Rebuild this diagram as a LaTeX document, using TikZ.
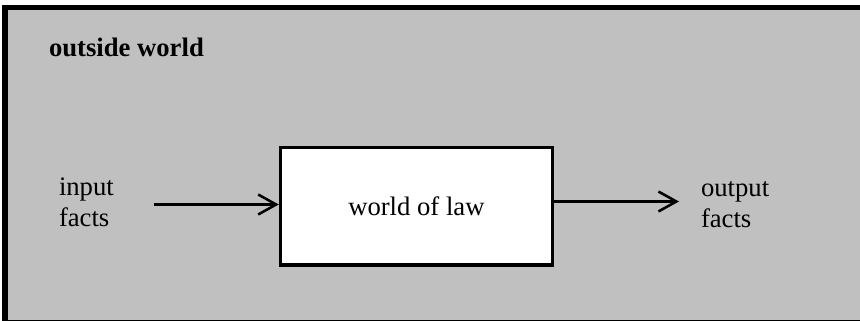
\documentclass[tikz,border=0pt]{standalone}
\usepackage{fontspec}
\setmainfont{Liberation Serif}
\usetikzlibrary{arrows.meta}
\definecolor{worldgray}{HTML}{C0C0C0}
\begin{document}
\begin{tikzpicture}[x=0.75pt,y=-0.75pt,
  lbl/.style={inner sep=0pt,outer sep=0pt,font=\fontsize{20}{23.25}\selectfont},
  lawbox/.style={draw=black,fill=white,line width=2.6pt,minimum width=203.85pt,minimum height=88pt,inner sep=0pt,font=\fontsize{20}{23.25}\selectfont},
  flow/.style={line width=1.9pt,-{Straight Barb[length=13.5pt,width=15pt,line width=1.9pt]}}]
\useasboundingbox (0,0) rectangle (860,321);
\clip (0,0) rectangle (860,321);
\fill[white] (0,0) rectangle (860,321);
\draw[fill=worldgray,line width=3.8pt] (5,7.5) rectangle (880,322.5);
\node[lbl,anchor=base west,font=\fontsize{20}{23.25}\selectfont\bfseries] (ow) at (49,57) {outside world};
\node[lawbox] (law) at (416.4,206.3) {world of law};
\node[lbl,anchor=base west,align=left] (in) at (59,226) {input\\facts};
\node[lbl,anchor=base west,align=left] (out) at (701,227) {output\\facts};
\coordinate (a1) at (154,204.5);
\coordinate (b1) at (679,201.5);
\draw[flow] (a1) -- (law.west |- a1);
\draw[flow] (law.east |- b1) -- (b1);
\end{tikzpicture}
\end{document}
